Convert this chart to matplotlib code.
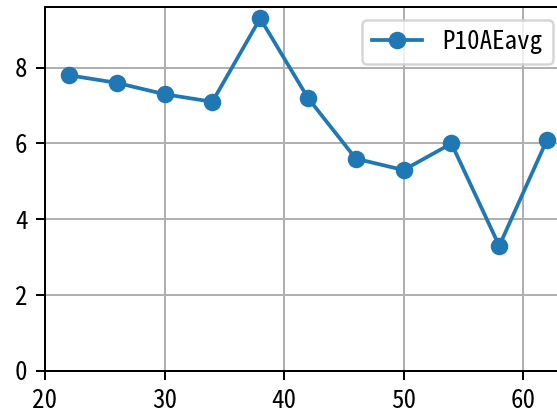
import matplotlib
matplotlib.use("Agg")
import matplotlib.pyplot as plt

plt.rcParams["font.family"] = ["Noto Sans Mono CJK JP", "Noto Sans CJK JP", "DejaVu Sans"]

# data
x_vals = [22, 26, 30, 34, 38, 42, 46, 50, 54, 58, 62]
p10ae_avg = [7.8, 7.6, 7.3, 7.1, 9.3, 7.2, 5.6, 5.3, 6.0, 3.3, 6.1]
series_label = "P10AEavg"

DPI = 180
fig = plt.figure(figsize=(557 / DPI, 412 / DPI), dpi=DPI)
# axes runs a little past the right edge, as in the reference crop
ax = fig.add_axes([45 / 557, 41 / 412, (565 - 45) / 557, 364 / 412])

ax.plot(x_vals, p10ae_avg, marker="o", label=series_label)
ax.set_xlim(20, 63.5)
ax.set_ylim(0, 9.6)
ax.set_xticks([20, 30, 40, 50, 60])
ax.set_yticks([0, 2, 4, 6, 8])
ax.grid(True)
ax.legend(loc="upper right")

fig.savefig("out.png", dpi=DPI)
